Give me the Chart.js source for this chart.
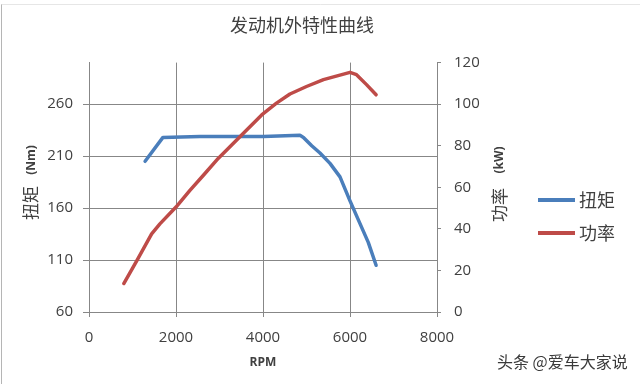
<!DOCTYPE html>
<html><head><meta charset="utf-8">
<script src="https://cdn.jsdelivr.net/npm/chart.js@4/dist/chart.umd.min.js"></script>
<style>html,body{margin:0;padding:0;background:#fff;} #wrap{width:640px;height:384px;position:relative;}</style>
</head><body><div id="wrap"><canvas id="c" width="640" height="384"></canvas></div>
<script>
const titleText = '发动机外特性曲线';
const xTitle = 'RPM';
const leftTitle = ['扭矩', '(Nm)'];
const rightTitle = ['功率', '(kW)'];
const seriesNames = ['扭矩', '功率'];
const xTicks = [0, 2000, 4000, 6000, 8000];
const leftTicks = [60, 110, 160, 210, 260];
const rightTicks = [0, 20, 40, 60, 80, 100, 120];
const torqueRpm = [1290, 1700, 2550, 4010, 4850, 4930, 5120, 5310, 5540, 5770, 6000, 6230, 6420, 6600];
const torqueNm  = [205, 228, 229, 229, 230, 228, 220, 213, 203, 190, 167, 145, 127, 105];
const powerRpm = [800, 1100, 1440, 1630, 2000, 2320, 2630, 2970, 3240, 3550, 3970, 4310, 4620, 5000, 5390, 6000, 6150, 6380, 6600];
const powerKw  = [13.7, 24.7, 37.6, 42.4, 50.5, 58.5, 65.8, 73.9, 79.5, 86, 94.8, 100.5, 104.9, 108.5, 111.8, 115.3, 114.2, 109.4, 104.5];
const watermark = '头条 @爱车大家说';

const CJK = "'Noto Sans CJK SC', sans-serif";
const LAT = "'Open Sans', sans-serif";
const TXT = '#404040';
const GRID = '#878787';

const toPts = (xs, ys) => xs.map((x, i) => ({ x: x, y: ys[i] }));
const fixTicks = arr => s => { s.ticks = arr.map(v => ({ value: v })); };
const plain = v => String(v);

const extras = {
  id: 'extras',
  afterDraw(chart) {
    const ctx = chart.ctx;
    ctx.save();
    // frame
    ctx.strokeStyle = '#b5b5b5'; ctx.lineWidth = 1;
    ctx.beginPath(); ctx.moveTo(1.5, 4); ctx.lineTo(1.5, 384); ctx.stroke();
    ctx.strokeStyle = '#e6e6e6';
    ctx.beginPath(); ctx.moveTo(1.5, 4.5); ctx.lineTo(640, 4.5); ctx.stroke();
    // rotated axis titles
    const rot = (text, x, y, font) => {
      ctx.save(); ctx.translate(x, y); ctx.rotate(-Math.PI / 2);
      ctx.font = font; ctx.fillStyle = TXT; ctx.textAlign = 'center'; ctx.textBaseline = 'middle';
      ctx.fillText(text, 0, 0); ctx.restore();
    };
    rot(leftTitle[0], 31, 203, '17px ' + CJK);
    rot(leftTitle[1], 32, 160, 'bold 12px ' + LAT);
    rot(rightTitle[0], 500, 205, '17px ' + CJK);
    rot(rightTitle[1], 500, 160, 'bold 12px ' + LAT);
    // legend
    chart.data.datasets.forEach((ds, i) => {
      const y = 200 + i * 33;
      ctx.strokeStyle = ds.borderColor; ctx.lineWidth = 4; ctx.lineCap = 'butt';
      ctx.beginPath(); ctx.moveTo(538, y); ctx.lineTo(575, y); ctx.stroke();
      ctx.font = '18px ' + CJK; ctx.fillStyle = TXT; ctx.textAlign = 'left'; ctx.textBaseline = 'middle';
      ctx.fillText(ds.label, 579, y);
    });
    // watermark
    ctx.font = '16px ' + CJK; ctx.textAlign = 'left'; ctx.textBaseline = 'middle';
    ctx.lineWidth = 3; ctx.strokeStyle = 'rgba(255,255,255,0.9)'; ctx.lineJoin = 'round';
    ctx.strokeText(watermark, 497, 362);
    ctx.fillStyle = '#3a3a3a';
    ctx.fillText(watermark, 497, 362);
    ctx.restore();
  }
};

new Chart(document.getElementById('c'), {
  type: 'line',
  data: {
    datasets: [
      { label: seriesNames[0], data: toPts(torqueRpm, torqueNm), yAxisID: 'y', borderColor: '#4A7EBB',
        borderWidth: 3.5, pointRadius: 0, tension: 0, borderCapStyle: 'round', borderJoinStyle: 'round', order: 1, fill: false },
      { label: seriesNames[1], data: toPts(powerRpm, powerKw), yAxisID: 'y1', borderColor: '#BE4B48',
        borderWidth: 3.5, pointRadius: 0, tension: 0, borderCapStyle: 'round', borderJoinStyle: 'round', order: 0, fill: false }
    ]
  },
  options: {
    responsive: false, animation: false, devicePixelRatio: 1,
    layout: { padding: { left: 0, right: 36, top: 0, bottom: 0 } },
    plugins: {
      legend: { display: false },
      tooltip: { enabled: false },
      title: { display: true, text: titleText, color: TXT,
        font: { family: CJK, size: 18, weight: 'normal', lineHeight: 1.2 },
        padding: { top: 14, bottom: 27 } }
    },
    scales: {
      x: { type: 'linear', position: 'bottom', min: 0, max: 8000,
        afterBuildTicks: fixTicks(xTicks),
        afterFit: s => { s.height = 72; s.paddingLeft = 0; s.paddingRight = 0; },
        ticks: { color: TXT, font: { family: LAT, size: 15 }, padding: 12, maxRotation: 0, autoSkip: false, callback: plain },
        grid: { color: GRID, lineWidth: 1, tickLength: 5 },
        border: { color: GRID, width: 1 },
        title: { display: true, text: xTitle, color: TXT, font: { family: LAT, size: 12, weight: 'bold' }, padding: { top: 0, bottom: 14 } }
      },
      y: { type: 'linear', position: 'left', min: 60, max: 300,
        afterBuildTicks: fixTicks(leftTicks),
        afterFit: s => { s.width = 89; s.paddingTop = 0; s.paddingBottom = 0; },
        ticks: { color: TXT, font: { family: LAT, size: 15 }, padding: 10, autoSkip: false, callback: plain },
        grid: { color: GRID, lineWidth: 1, tickLength: 6 },
        border: { color: GRID, width: 1 }
      },
      y1: { type: 'linear', position: 'right', min: 0, max: 120,
        afterBuildTicks: fixTicks(rightTicks),
        afterFit: s => { s.width = 167; s.paddingTop = 0; s.paddingBottom = 0; },
        ticks: { color: TXT, font: { family: LAT, size: 15 }, padding: 13, autoSkip: false, callback: plain },
        grid: { drawOnChartArea: false, color: GRID, lineWidth: 1, tickLength: 4 },
        border: { color: GRID, width: 1 }
      }
    }
  },
  plugins: [extras]
});
</script>
</body></html>
